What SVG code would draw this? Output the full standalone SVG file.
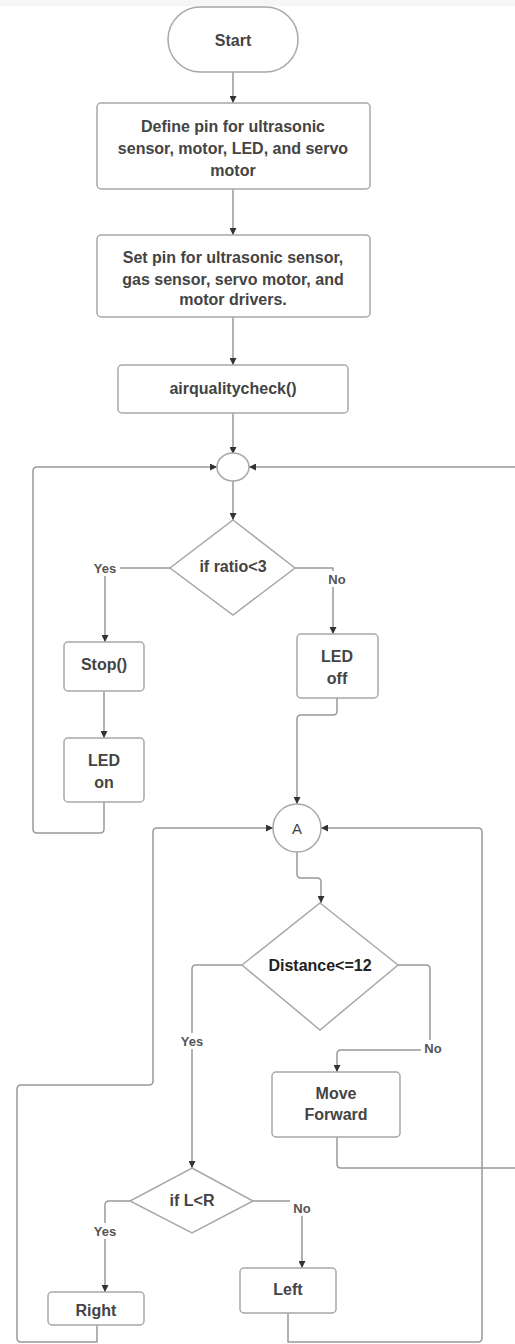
<svg xmlns="http://www.w3.org/2000/svg" width="515" height="1344" viewBox="0 0 515 1344">
<defs>
<marker id="ah" viewBox="0 0 10 10" refX="10" refY="5" markerWidth="7" markerHeight="7" markerUnits="userSpaceOnUse" orient="auto">
<path d="M0,0 L10,5 L0,10 z" fill="#333"/>
</marker>
<style>
.box{fill:#fff;stroke:#a8a8a8;stroke-width:1.5}
.t{font-family:"Liberation Sans",Arial,sans-serif;font-weight:bold;font-size:16px;fill:#444;text-anchor:middle;dominant-baseline:central}
.lbl{font-family:"Liberation Sans",Arial,sans-serif;font-weight:bold;font-size:13px;fill:#555;text-anchor:middle;dominant-baseline:central}
.c{fill:none;stroke:#999;stroke-width:1.5;stroke-linejoin:round}
.a{marker-end:url(#ah)}
.bg{fill:#fff}
</style>
</defs>
<rect x="0" y="0" width="515" height="1344" fill="#fff"/>
<rect x="0" y="0" width="515" height="6" fill="#f6f6f6"/>

<g id="connectors">
<path class="c a" d="M233 72 V103"/>
<path class="c a" d="M233 189 V235"/>
<path class="c a" d="M233 317 V365"/>
<path class="c a" d="M233 413 V454"/>
<path class="c a" d="M233 481 V520"/>
<path class="c a" d="M170 568 H105 V642"/>
<path class="c a" d="M295 568 H333 V634"/>
<path class="c a" d="M104 691 V738"/>
<path class="c a" d="M104 802 V829 Q104 833 100 833 H37 Q33 833 33 829 V471 Q33 467 37 467 H217"/>
<path class="c a" d="M337 698 V711 Q337 715 333 715 H301 Q297 715 297 719 V804"/>
<path class="c a" d="M515 467 H249"/>
<path class="c a" d="M297 852 V874 Q297 878 301 878 H317 Q321 878 321 882 V903"/>
<path class="c a" d="M242 965 H196 Q192 965 192 969 V1168"/>
<path class="c a" d="M398 965 H426 Q430 965 430 969 V1050 H341 Q337 1050 337 1054 V1072"/>
<path class="c" d="M337 1137 V1164 Q337 1168 341 1168 H515"/>
<path class="c a" d="M97 1325 V1342 H21 Q17 1342 17 1338 V1089 Q17 1085 21 1085 H149 Q153 1085 153 1081 V832 Q153 828 157 828 H273"/>
<path class="c a" d="M288 1313 V1342 H478 Q482 1342 482 1338 V832 Q482 828 478 828 H321"/>
<path class="c a" d="M130 1201 H109 Q105 1201 105 1205 V1292"/>
<path class="c a" d="M253 1201 H298 Q302 1201 302 1205 V1268"/>
<rect class="bg" x="90" y="560" width="30" height="16"/>
<text class="lbl" x="105" y="568">Yes</text>
<rect class="bg" x="325" y="571" width="24" height="16"/>
<text class="lbl" x="337" y="579">No</text>
<rect class="bg" x="177" y="1033" width="30" height="16"/>
<text class="lbl" x="192" y="1041">Yes</text>
<rect class="bg" x="421" y="1040" width="24" height="16"/>
<text class="lbl" x="433" y="1048">No</text>
<rect class="bg" x="90" y="1223" width="30" height="16"/>
<text class="lbl" x="105" y="1231">Yes</text>
<rect class="bg" x="290" y="1200" width="24" height="16"/>
<text class="lbl" x="302" y="1208">No</text>
</g>

<g id="start">
<rect class="box" x="168" y="7" width="130" height="65" rx="32.5"/>
<text class="t" x="233" y="40">Start</text>
</g>
<g id="define">
<rect class="box" x="97" y="103" width="273" height="86" rx="4"/>
<text class="t" x="233" y="126">Define pin for ultrasonic</text>
<text class="t" x="233" y="148">sensor, motor, LED, and servo</text>
<text class="t" x="233" y="170">motor</text>
</g>
<g id="setpin">
<rect class="box" x="97" y="235" width="273" height="82" rx="4"/>
<text class="t" x="233" y="257">Set pin for ultrasonic sensor,</text>
<text class="t" x="233" y="279">gas sensor, servo motor, and</text>
<text class="t" x="233" y="299">motor drivers.</text>
</g>
<g id="airquality">
<rect class="box" x="118" y="365" width="230" height="48" rx="4"/>
<text class="t" x="233" y="388">airqualitycheck()</text>
</g>
<g id="merge1">
<ellipse class="box" cx="233" cy="467" rx="16" ry="14"/>
</g>
<g id="ratio">
<path class="box" d="M233 520 L295 568 L233 615 L170 568 Z"/>
<text class="t" x="233" y="566">if ratio&lt;3</text>
</g>
<g id="stop">
<rect class="box" x="64" y="642" width="80" height="49" rx="4"/>
<text class="t" x="104" y="664">Stop()</text>
</g>
<g id="ledon">
<rect class="box" x="64" y="738" width="80" height="64" rx="4"/>
<text class="t" x="104" y="760">LED</text>
<text class="t" x="104" y="782">on</text>
</g>
<g id="ledoff">
<rect class="box" x="297" y="634" width="81" height="64" rx="4"/>
<text class="t" x="337" y="656">LED</text>
<text class="t" x="337" y="678">off</text>
</g>
<g id="connectorA">
<circle class="box" cx="297" cy="828" r="24"/>
<text class="t" x="297" y="828" style="font-weight:normal;font-size:15px">A</text>
</g>
<g id="distance">
<path class="box" d="M320 903 L398 965 L320 1030 L242 965 Z"/>
<text class="t" x="320" y="965" style="fill:#222">Distance&lt;=12</text>
</g>
<g id="moveforward">
<rect class="box" x="272" y="1072" width="128" height="65" rx="4"/>
<text class="t" x="336" y="1093">Move</text>
<text class="t" x="336" y="1114">Forward</text>
</g>
<g id="iflr">
<path class="box" d="M192 1168 L253 1201 L192 1233 L130 1201 Z"/>
<text class="t" x="192" y="1200">if L&lt;R</text>
</g>
<g id="right">
<rect class="box" x="48" y="1292" width="96" height="33" rx="4"/>
<text class="t" x="96" y="1310">Right</text>
</g>
<g id="left">
<rect class="box" x="240" y="1268" width="96" height="45" rx="4"/>
<text class="t" x="288" y="1289">Left</text>
</g>
</svg>
